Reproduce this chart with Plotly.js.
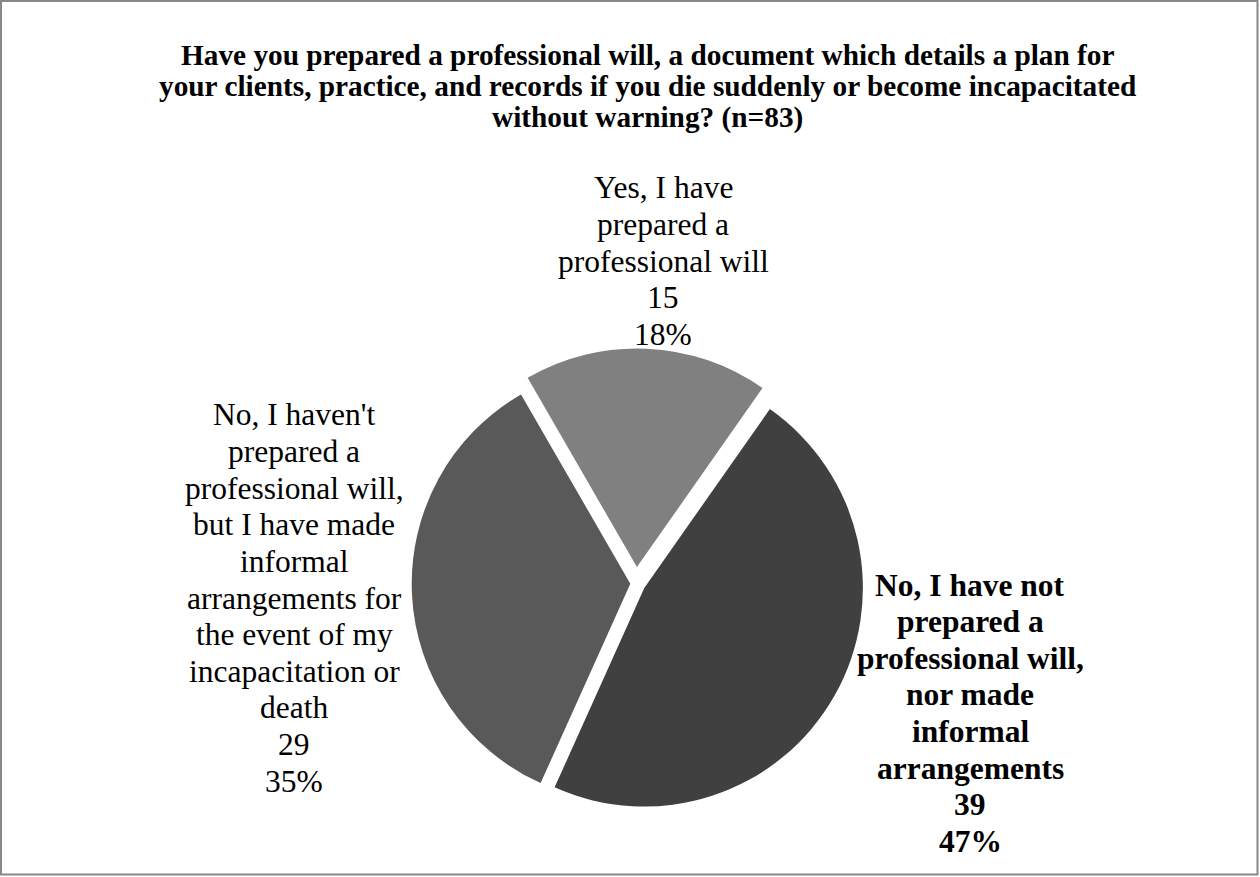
<!DOCTYPE html>
<html><head><meta charset="utf-8">
<script src="https://cdn.plot.ly/plotly-3.0.1.min.js"></script>
<style>html,body{margin:0;padding:0;background:#fff;} #chart{width:1260px;height:877px;}</style>
</head><body><div id="chart"></div>
<script>
// ---- data ----
const chartTitle = 'Have you prepared a professional will, a document which details a plan for your clients, practice, and records if you die suddenly or become incapacitated without warning? (n=83)';
const categories = [
  'Yes, I have prepared a professional will',
  'No, I have not prepared a professional will, nor made informal arrangements',
  "No, I haven't prepared a professional will, but I have made informal arrangements for the event of my incapacitation or death"
];
const counts = [15, 39, 29];

// ---- styling ----
const sliceColors = ['#808080', '#404040', '#595959'];
const slicePull = [0.075, 0.0425, 0.027];
const labelBold = [false, true, false];
const labelPos = [[663, 188], [970, 585], [294, 415]]; // px: centre x, first-line centre y
const W = 1260, H = 877;
const FONT = 'Liberation Serif, Times New Roman, serif';
const labelSize = 31.5, labelStep = 36.6, labelWrap = 240;
const titleSize = 29.3, titleStep = 31, titleWrap = 987, titleX = 648, titleY = 55;

const ctx = document.createElement('canvas').getContext('2d');
function wrap(text, bold, size, maxW) {
  ctx.font = (bold ? 'bold ' : '') + size + 'px "Liberation Serif"';
  const words = text.split(' ');
  const lines = [];
  let cur = '';
  for (const w of words) {
    const t = cur ? cur + ' ' + w : w;
    if (cur && ctx.measureText(t).width > maxW) { lines.push(cur); cur = w; }
    else cur = t;
  }
  if (cur) lines.push(cur);
  return lines;
}
const px = x => x / W;
const py = y => 1 - y / H;

const total = counts.reduce((a, b) => a + b, 0);
const annotations = [];

wrap(chartTitle, true, titleSize, titleWrap).forEach((line, i) => {
  annotations.push({
    xref: 'paper', yref: 'paper', x: px(titleX), y: py(titleY + i * titleStep),
    xanchor: 'center', yanchor: 'middle', showarrow: false, text: line,
    font: {family: FONT, size: titleSize, color: '#000', weight: 'bold'}
  });
});

categories.forEach((cat, k) => {
  const lines = wrap(cat, labelBold[k], labelSize, labelWrap)
    .concat([String(counts[k]), Math.round(100 * counts[k] / total) + '%']);
  lines.forEach((line, i) => {
    annotations.push({
      xref: 'paper', yref: 'paper', x: px(labelPos[k][0]),
      y: py(labelPos[k][1] + i * labelStep),
      xanchor: 'center', yanchor: 'middle', showarrow: false, text: line,
      font: {family: FONT, size: labelSize, color: '#000', weight: labelBold[k] ? 'bold' : 'normal'}
    });
  });
});

// pie placement: centre (636.2, 583.4) px, box 470 px
const cx = 636.2, cy = 583.4, half = 235;

const trace = {
  type: 'pie',
  labels: categories,
  values: counts,
  sort: false,
  direction: 'clockwise',
  rotation: -30,
  pull: slicePull,
  marker: {colors: sliceColors, line: {width: 0}},
  textinfo: 'none',
  hoverinfo: 'label+value+percent',
  showlegend: false,
  domain: {x: [px(cx - half), px(cx + half)], y: [py(cy + half), py(cy - half)]}
};

const layout = {
  width: W, height: H,
  margin: {l: 0, r: 0, t: 0, b: 0},
  paper_bgcolor: '#ffffff',
  plot_bgcolor: '#ffffff',
  showlegend: false,
  annotations: annotations,
  shapes: [{
    type: 'rect', xref: 'paper', yref: 'paper',
    x0: px(1), x1: px(1257.5), y0: py(874.5), y1: py(1),
    line: {color: '#888888', width: 2}, fillcolor: 'rgba(0,0,0,0)'
  }]
};

Plotly.newPlot('chart', [trace], layout, {displayModeBar: false, staticPlot: true});
</script>
</body></html>
